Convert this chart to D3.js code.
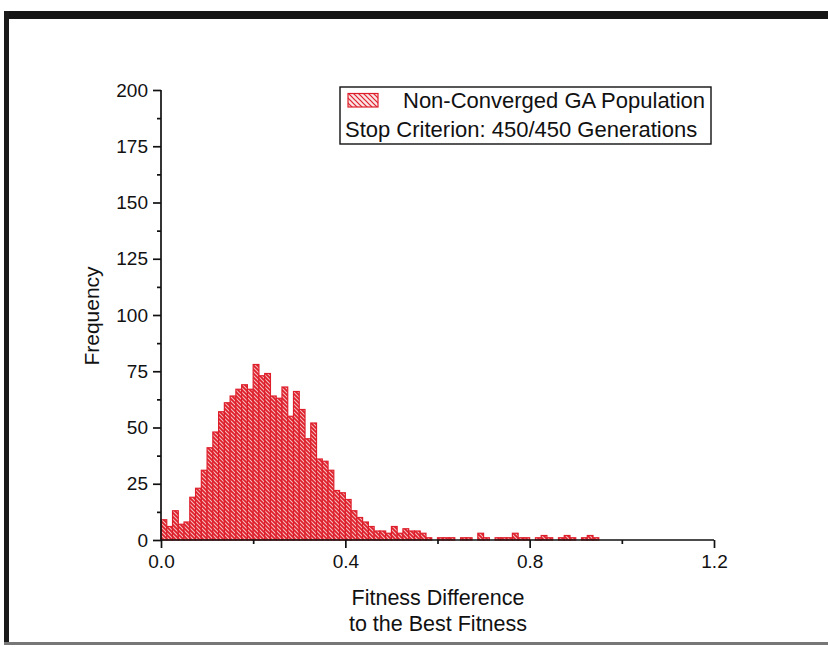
<!DOCTYPE html>
<html>
<head>
<meta charset="utf-8">
<script src="https://cdn.jsdelivr.net/npm/d3@7"></script>
<style>
  html, body { margin: 0; padding: 0; background: #fff; }
  svg { display: block; }
  text { font-family: "Liberation Sans", Arial, Helvetica, sans-serif; fill: #111; }
</style>
</head>
<body>
<svg id="chart" width="828" height="647"></svg>
<script>
// ---- data ----
const binStart = 0.0;
const binWidth = 0.0125;
const frequencies = [
  9, 6, 13, 7, 8, 19, 23, 31, 41, 48,
  57, 61, 64, 67, 69, 67, 78, 73, 74, 64,
  63, 68, 55, 66, 58, 45, 52, 36, 35, 31,
  22, 21, 18, 13, 10, 8, 6, 4, 4, 3,
  6, 3, 5, 4, 4, 3, 1, 0, 1, 1,
  1, 0, 1, 1, 0, 3, 1, 0, 1, 1,
  1, 3, 1, 1, 0, 1, 2, 1, 0, 1,
  2, 1, 0, 1, 2, 1
];
const xTicks = [0.0, 0.4, 0.8, 1.2];
const xMinorTicks = [0.2, 0.6, 1.0];
const yTicks = [0, 25, 50, 75, 100, 125, 150, 175, 200];
const yMinorTicks = [12.5, 37.5, 62.5, 87.5, 112.5, 137.5, 162.5, 187.5];
const legendLabels = ["Non-Converged GA Population", "Stop Criterion: 450/450 Generations"];
const xTitle = ["Fitness Difference", "to the Best Fitness"];
const yTitle = "Frequency";

(function () {
const bins = frequencies.map((f, i) => ({ x0: binStart + i * binWidth, x1: binStart + (i + 1) * binWidth, n: f }));

// ---- layout ----
const svg = d3.select("#chart");
const pLeft = 161, pRight = 714, pTop = 90, pBottom = 540;
const x = d3.scaleLinear().domain([0, 1.2]).range([pLeft, pRight]);
const y = d3.scaleLinear().domain([0, 200]).range([pBottom, pTop]);
const red = "#de1f2b";

// scan frame
svg.append("rect").attr("x", 4).attr("y", 11).attr("width", 824).attr("height", 8).attr("fill", "#151515");
svg.append("rect").attr("x", 4).attr("y", 11).attr("width", 5).attr("height", 632).attr("fill", "#1a1a1a");
svg.append("rect").attr("x", 4).attr("y", 642).attr("width", 824).attr("height", 3).attr("fill", "#777");

// hatch pattern
const defs = svg.append("defs");
const pat = defs.append("pattern").attr("id", "hatch").attr("patternUnits", "userSpaceOnUse")
  .attr("width", 4).attr("height", 4);
pat.append("rect").attr("width", 4).attr("height", 4).attr("fill", "#f6c0c0");
pat.append("path").attr("d", "M-1,-1 L5,5 M-1,3 L1,5 M3,-1 L5,1")
  .attr("stroke", red).attr("stroke-width", 1.8);
const pat2 = defs.append("pattern").attr("id", "hatchLegend").attr("patternUnits", "userSpaceOnUse")
  .attr("width", 5).attr("height", 5);
pat2.append("rect").attr("width", 5).attr("height", 5).attr("fill", "#fbe4e4");
pat2.append("path").attr("d", "M-1,-1 L6,6 M-1,4 L1,6 M4,-1 L6,1")
  .attr("stroke", red).attr("stroke-width", 1.2);

// bars
svg.append("g").selectAll("rect").data(bins.filter(b => b.n > 0)).join("rect")
  .attr("x", d => x(d.x0))
  .attr("y", d => y(d.n))
  .attr("width", d => x(d.x1) - x(d.x0))
  .attr("height", d => y(0) - y(d.n))
  .attr("fill", "url(#hatch)")
  .attr("stroke", red)
  .attr("stroke-width", 1.2);

// axes
const fs = "19px";
const yAxis = svg.append("g").attr("transform", `translate(${pLeft},0)`)
  .call(d3.axisLeft(y).tickValues(yTicks).tickSize(8).tickPadding(5).tickFormat(d3.format("d")));
svg.append("g").attr("transform", `translate(${pLeft},0)`)
  .call(d3.axisLeft(y).tickValues(yMinorTicks).tickSize(4).tickFormat(""))
  .call(g => g.select(".domain").remove());
const xAxis = svg.append("g").attr("transform", `translate(0,${pBottom})`)
  .call(d3.axisBottom(x).tickValues(xTicks).tickSize(8).tickPadding(7).tickFormat(d3.format(".1f")));
svg.append("g").attr("transform", `translate(0,${pBottom})`)
  .call(d3.axisBottom(x).tickValues(xMinorTicks).tickSize(4).tickFormat(""))
  .call(g => g.select(".domain").remove());
svg.selectAll(".domain, .tick line").attr("stroke", "#111").attr("stroke-width", 1.7);
yAxis.select(".domain").attr("d", `M0,${pBottom}V${pTop}`);
xAxis.select(".domain").attr("d", `M${pLeft},0H${pRight}`);
svg.selectAll(".tick text").style("font-size", fs).style("font-family", '"Liberation Sans", Arial, sans-serif').attr("fill", "#111");

// titles
svg.append("text").attr("transform", `translate(99,316) rotate(-90)`)
  .attr("text-anchor", "middle").style("font-size", "21px").text(yTitle);
svg.append("text").attr("x", 438).attr("y", 605).attr("text-anchor", "middle").style("font-size", "21.5px").text(xTitle[0]);
svg.append("text").attr("x", 438).attr("y", 631).attr("text-anchor", "middle").style("font-size", "21.5px").text(xTitle[1]);

// legend
const lg = svg.append("g");
lg.append("rect").attr("x", 340).attr("y", 87).attr("width", 371).attr("height", 57)
  .attr("fill", "#fff").attr("stroke", "#111").attr("stroke-width", 1.4);
lg.append("rect").attr("x", 348).attr("y", 93.5).attr("width", 30).attr("height", 13.5)
  .attr("fill", "url(#hatchLegend)").attr("stroke", red).attr("stroke-width", 1.2);
lg.append("text").attr("x", 403).attr("y", 108).style("font-size", "22px").text(legendLabels[0]);
lg.append("text").attr("x", 345).attr("y", 137).style("font-size", "22px").text(legendLabels[1]);
})();
</script>
</body>
</html>
